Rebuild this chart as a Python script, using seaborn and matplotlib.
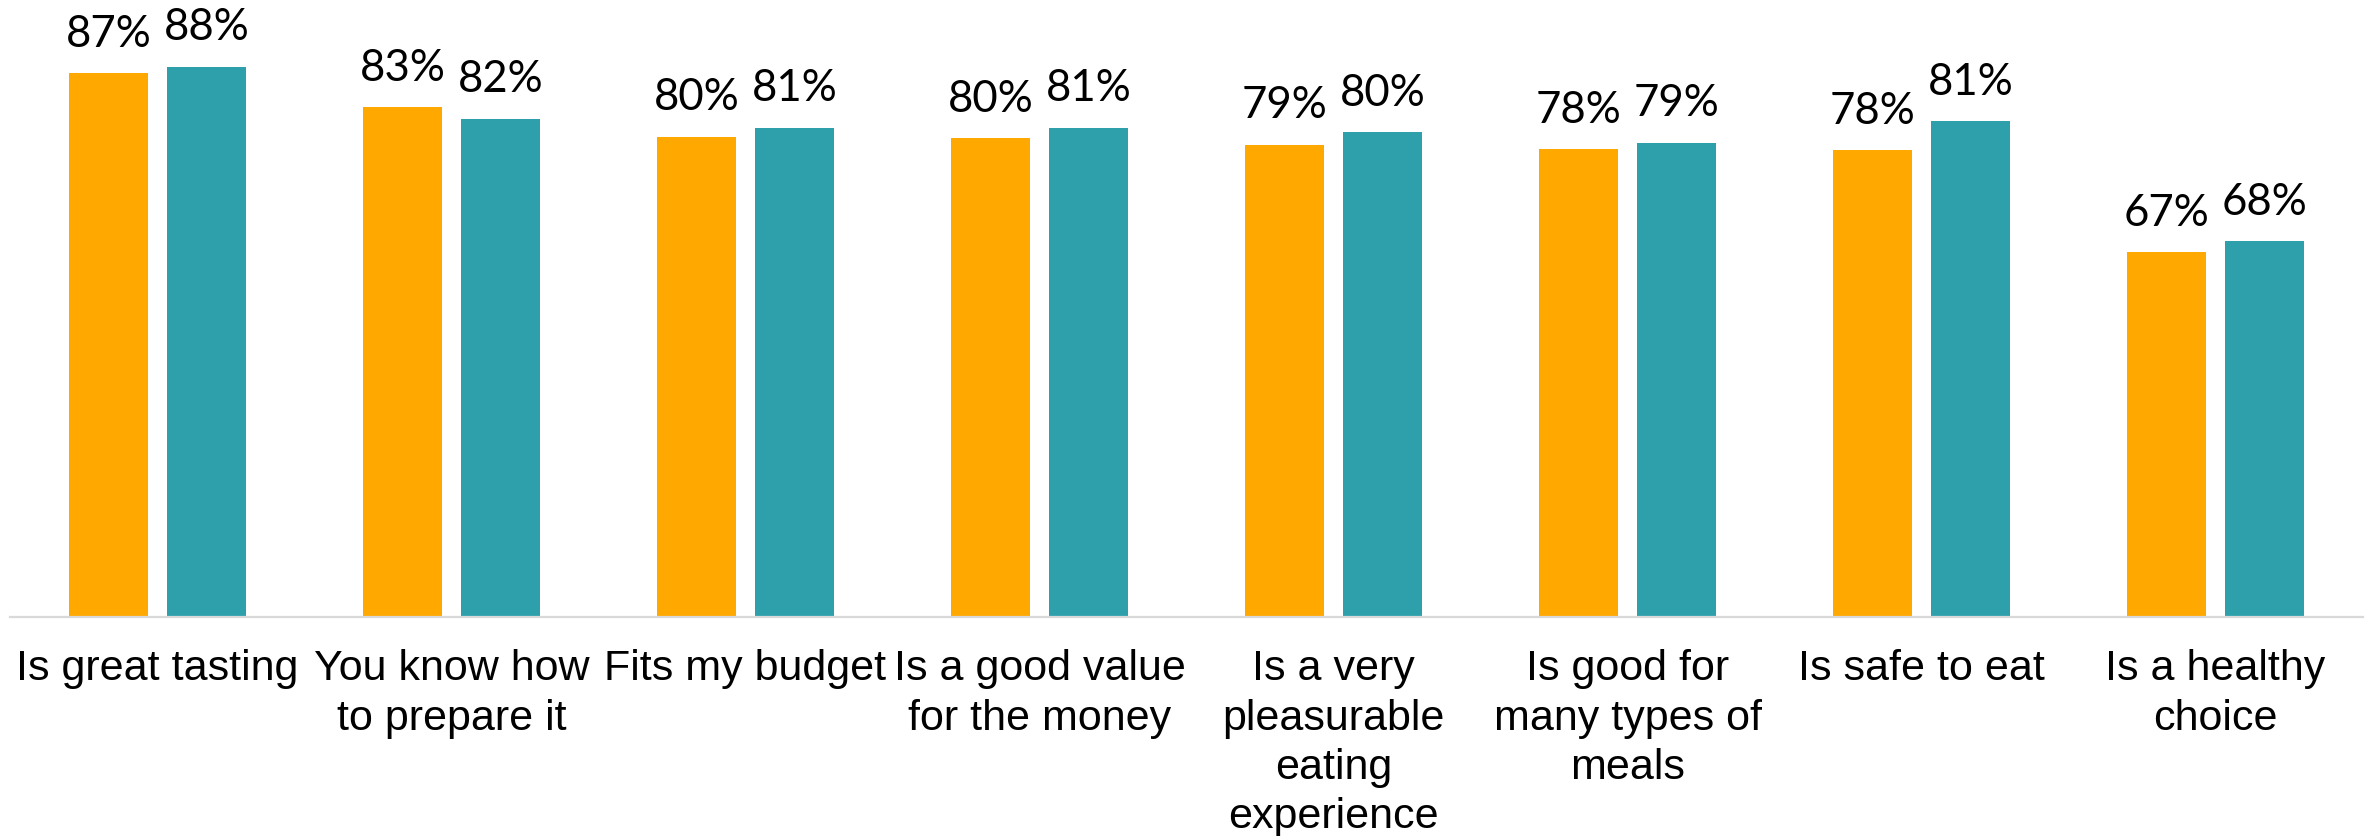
import matplotlib
matplotlib.use("Agg")
import matplotlib.pyplot as plt
import seaborn as sns
import pandas as pd

# ---- data ----
categories = [
    "Is great tasting",
    "You know how\nto prepare it",
    "Fits my budget",
    "Is a good value\nfor the money",
    "Is a very\npleasurable\neating\nexperience",
    "Is good for\nmany types of\nmeals",
    "Is safe to eat",
    "Is a healthy\nchoice",
]
series_names = ["Series 1", "Series 2"]
# bar heights (percent)
series1_values = [87.0, 83.2, 79.9, 79.7, 79.0, 78.5, 78.4, 67.0]
series2_values = [87.7, 81.9, 80.9, 80.9, 80.4, 79.2, 81.6, 68.2]
# printed data labels
series1_labels = ["87%", "83%", "80%", "80%", "79%", "78%", "78%", "67%"]
series2_labels = ["88%", "82%", "81%", "81%", "80%", "79%", "81%", "68%"]

colors = ["#FFA800", "#2EA0AC"]

df = pd.DataFrame({
    "category": categories * 2,
    "series": [series_names[0]] * len(categories) + [series_names[1]] * len(categories),
    "value": series1_values + series2_values,
})

sns.set_theme(style="white")
plt.rcParams["font.family"] = ["Liberation Sans", "DejaVu Sans"]

fig = plt.figure(figsize=(23.69, 8.36), dpi=100)
ax = fig.add_axes([0.00443, 0.2614, 0.99283, 0.7386])

sns.barplot(data=df, x="category", y="value", hue="series", order=categories,
            hue_order=series_names, palette=colors, width=0.667, gap=0.2,
            linewidth=0, saturation=1, legend=False, ax=ax)

ax.set_xlim(-0.5, 7.5)
ax.set_ylim(26.16, 95.16)

label_sets = [series1_labels, series2_labels]
for container, labels in zip(ax.containers, label_sets):
    for patch, lab in zip(container.patches, labels):
        x = patch.get_x() + patch.get_width() / 2
        y = patch.get_y() + patch.get_height()
        ax.annotate(lab, (x, y), xytext=(0, 19), textcoords="offset points",
                    ha="center", va="baseline", fontsize=31.5,
                    family=["Lato", "DejaVu Sans"], color="black",
                    annotation_clip=False)

for s in ["top", "left", "right"]:
    ax.spines[s].set_visible(False)
ax.spines["bottom"].set_color("#D9D9D9")
ax.spines["bottom"].set_linewidth(1.6)

ax.set_yticks([])
ax.set_xlabel("")
ax.set_ylabel("")
ax.tick_params(axis="x", length=0, pad=23, labelsize=31, colors="black")
for t in ax.get_xticklabels():
    t.set_linespacing(1.3)
    t.set_family(["Liberation Sans", "DejaVu Sans"])

fig.savefig("out.png", dpi=100, facecolor="white")
